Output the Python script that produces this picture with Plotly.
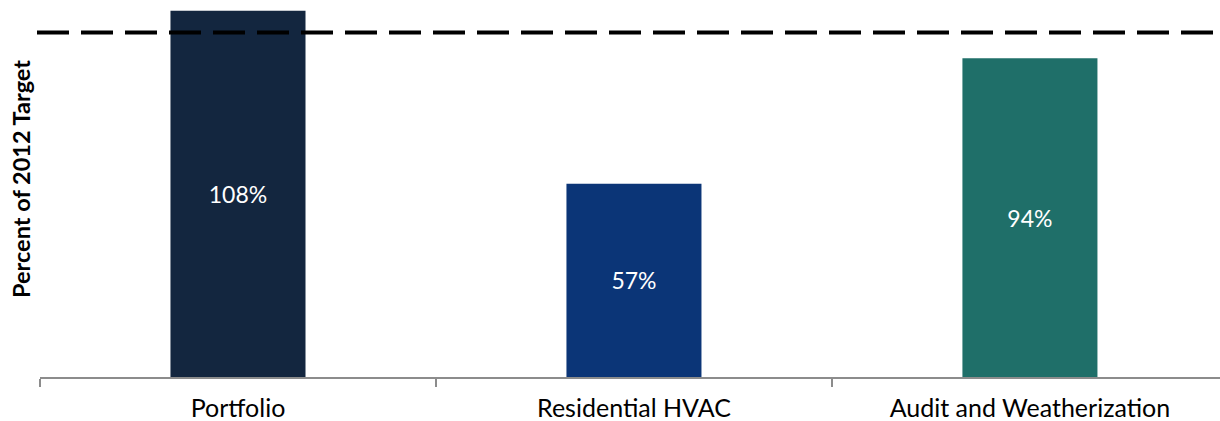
import plotly.graph_objects as go

# Program results as a share of the 2012 target (percent)
categories = ["Portfolio", "Residential HVAC", "Audit and Weatherization"]
percent_of_target = [108, 57, 94]
bar_colors = ["#13263F", "#0B3577", "#1F6F69"]
value_labels = [f"{v}%" for v in percent_of_target]

# Dashed target reference line level (percent)
target_level = 101.6

y_title = "Percent of 2012 Target"

FONT = "Lato, Calibri, 'Open Sans', sans-serif"

fig = go.Figure()
fig.add_trace(
    go.Bar(
        x=categories,
        y=percent_of_target,
        marker=dict(color=bar_colors, line=dict(width=0)),
        text=value_labels,
        textposition="inside",
        insidetextanchor="middle",
        textangle=0,
        textfont=dict(family=FONT, size=23, color="white"),
        width=0.341,
        hoverinfo="x+y",
    )
)

# Target line drawn across the plot width
fig.add_shape(
    type="line",
    xref="paper",
    yref="y",
    x0=-3 / 1180,
    x1=1173 / 1180,
    y0=target_level,
    y1=target_level,
    line=dict(color="black", width=4, dash="32px,12px"),
    layer="above",
)

fig.add_annotation(
    text=f"<b>{y_title}</b>",
    xref="paper",
    yref="paper",
    x=(21 - 40) / 1180,
    y=(377 - 179) / 377,
    xanchor="center",
    yanchor="middle",
    textangle=-90,
    showarrow=False,
    font=dict(family=FONT, size=23.5, color="black"),
)

fig.update_layout(
    width=1220,
    height=421,
    margin=dict(l=40, r=0, t=0, b=44, pad=0),
    plot_bgcolor="white",
    paper_bgcolor="white",
    showlegend=False,
    font=dict(family=FONT),
    xaxis=dict(
        type="category",
        range=[-0.5, 2.48],
        showline=True,
        linecolor="#8C8C8C",
        linewidth=2,
        ticks="outside",
        tickson="boundaries",
        ticklen=8,
        tickwidth=1.5,
        tickcolor="#8C8C8C",
        ticklabelstandoff=8,
        tickfont=dict(family=FONT, size=25, color="black"),
        showgrid=False,
        zeroline=False,
        automargin=False,
        fixedrange=True,
    ),
    yaxis=dict(
        range=[0, 111.2],
        showticklabels=False,
        showgrid=False,
        zeroline=False,
        showline=False,
        ticks="",
        automargin=False,
        fixedrange=True,
    ),
)

fig.write_html("out.html")
